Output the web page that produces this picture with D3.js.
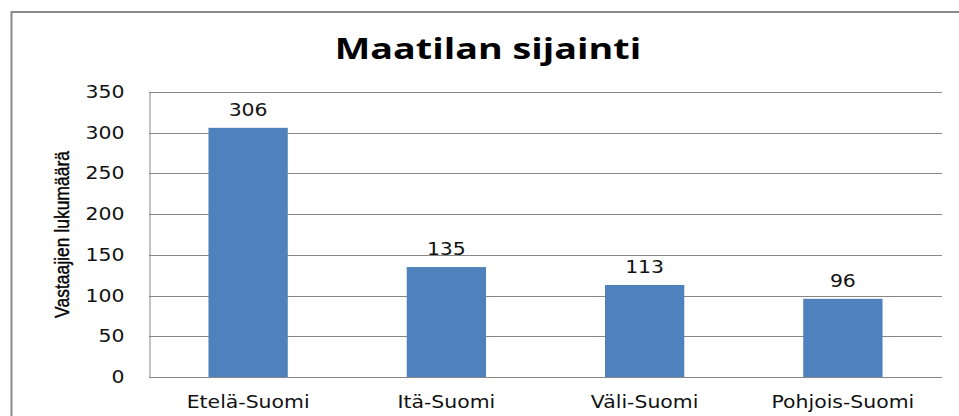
<!DOCTYPE html>
<html>
<head>
<meta charset="utf-8">
<script src="https://cdn.jsdelivr.net/npm/d3@7"></script>
<style>
  html, body { margin: 0; padding: 0; background: #fff; }
  svg { display: block; }
</style>
</head>
<body>
<div id="chart"></div>
<script>
// data
const categories = ['Etelä-Suomi', 'Itä-Suomi', 'Väli-Suomi', 'Pohjois-Suomi'];
const values = [306, 135, 113, 96];
const yTicks = [0, 50, 100, 150, 200, 250, 300, 350];
const title = 'Maatilan sijainti';
const yTitle = 'Vastaajien lukumäärä';

const width = 959, height = 416;
const margin = { top: 92, right: 17, bottom: 39, left: 149 };

const svg = d3.select('#chart').append('svg')
  .attr('width', width)
  .attr('height', height);

// outer chart frame (runs off the right and bottom edges)
svg.append('rect')
  .attr('x', 11.5).attr('y', 12)
  .attr('width', 970).attr('height', 420)
  .attr('fill', 'none')
  .attr('stroke', '#8a8a8a')
  .attr('stroke-width', 2);

const x = d3.scaleBand()
  .domain(categories)
  .range([margin.left, width - margin.right])
  .paddingInner(0.6)
  .paddingOuter(0.3);

const y = d3.scaleLinear()
  .domain([0, 350])
  .range([height - margin.bottom, margin.top]);

// stretch text horizontally (the original picture is widened)
function stretch(sel, sx) {
  sel.each(function () {
    const w = this.getComputedTextLength();
    d3.select(this)
      .attr('textLength', w * sx)
      .attr('lengthAdjust', 'spacingAndGlyphs');
  });
}

// gridlines
svg.append('g')
  .selectAll('line')
  .data(yTicks)
  .join('line')
  .attr('x1', margin.left)
  .attr('x2', width - margin.right)
  .attr('y1', d => Math.round(y(d)) + 0.5)
  .attr('y2', d => Math.round(y(d)) + 0.5)
  .attr('stroke', '#878787')
  .attr('stroke-width', 1);

// y axis
const yAxis = svg.append('g')
  .attr('transform', `translate(${margin.left + 0.5},0)`)
  .call(d3.axisLeft(y).tickValues(yTicks).tickSize(0).tickPadding(25));
yAxis.select('.domain').attr('stroke', '#878787');
yAxis.selectAll('text')
  .attr('font-family', 'DejaVu Sans')
  .attr('font-size', 17)
  .attr('fill', '#111')
  .call(stretch, 1.2);

// bars
svg.append('g')
  .selectAll('rect')
  .data(values)
  .join('rect')
  .attr('x', (d, i) => x(categories[i]))
  .attr('y', d => y(d))
  .attr('width', x.bandwidth())
  .attr('height', d => y(0) - y(d))
  .attr('fill', '#4F81BD');

// value labels
svg.append('g')
  .selectAll('text')
  .data(values)
  .join('text')
  .attr('x', (d, i) => x(categories[i]) + x.bandwidth() / 2)
  .attr('y', d => y(d) - 12)
  .attr('text-anchor', 'middle')
  .attr('font-family', 'DejaVu Sans')
  .attr('font-size', 17)
  .attr('fill', '#111')
  .text(d => d)
  .call(stretch, 1.2);

// category labels
svg.append('g')
  .selectAll('text')
  .data(categories)
  .join('text')
  .attr('x', d => x(d) + x.bandwidth() / 2)
  .attr('y', y(0) + 31)
  .attr('text-anchor', 'middle')
  .attr('font-family', 'DejaVu Sans')
  .attr('font-size', 17)
  .attr('fill', '#111')
  .text(d => d)
  .call(stretch, 1.2);

// title
svg.append('text')
  .attr('x', 488)
  .attr('y', 59)
  .attr('text-anchor', 'middle')
  .attr('font-family', 'Open Sans')
  .attr('font-weight', 'bold')
  .attr('font-size', 29)
  .attr('fill', '#000')
  .text(title)
  .call(stretch, 1.3);

// y axis title (glyphs taller along screen x, like the widened original)
svg.append('text')
  .attr('transform', `translate(69,${(margin.top + height - margin.bottom) / 2}) rotate(-90) scale(1,1.15)`)
  .attr('text-anchor', 'middle')
  .attr('font-family', 'Liberation Sans')
  .attr('font-size', 17.5)
  .attr('fill', '#000')
  .attr('stroke', '#000')
  .attr('stroke-width', 0.35)
  .text(yTitle);
</script>
</body>
</html>
